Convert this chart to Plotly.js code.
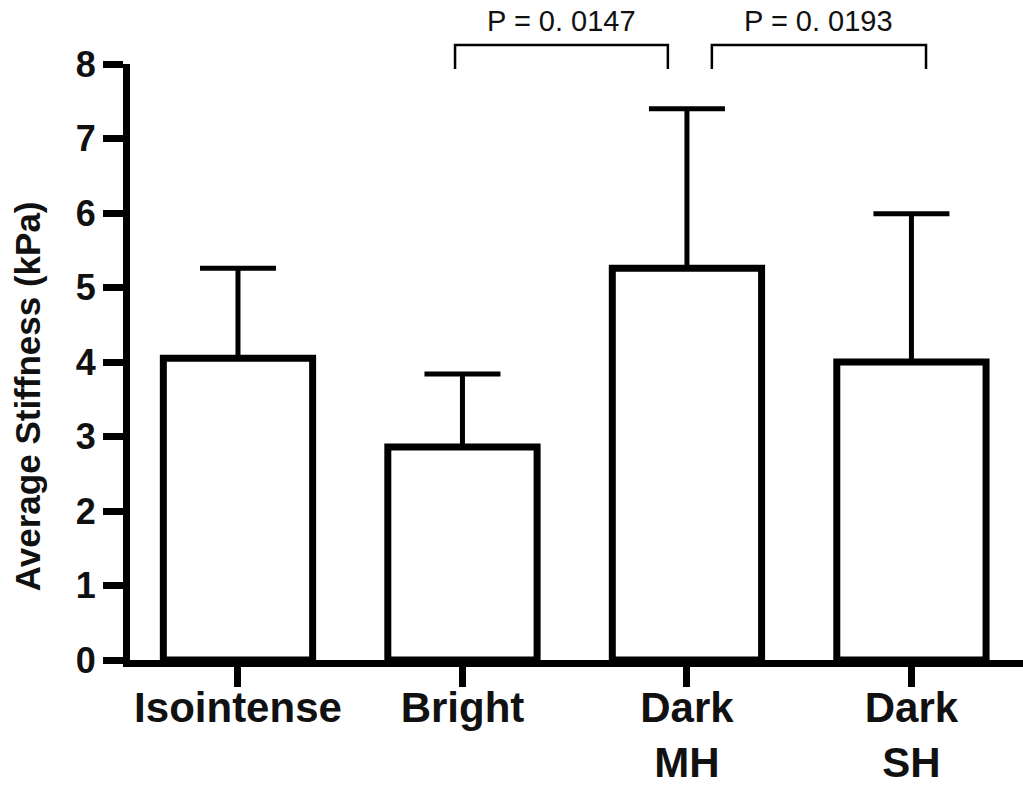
<!DOCTYPE html>
<html>
<head>
<meta charset="utf-8">
<script src="https://cdn.plot.ly/plotly-3.0.1.min.js"></script>
<style>html,body{margin:0;padding:0;background:#fff;}#chart{width:1023px;height:788px;}</style>
</head>
<body>
<div id="chart"></div>
<script>
var categories = ["Isointense", "Bright", "Dark<br>MH", "Dark<br>SH"];
var meanStiffness = [4.05, 2.86, 5.26, 4.00];
var errorUp = [1.21, 0.98, 2.14, 1.99];
var errorDown = [0, 0, 0, 0];
var yTickVals = [0, 1, 2, 3, 4, 5, 6, 7, 8];
var yTitle = "Average Stiffness (kPa)";
var comparisons = [
  {from: 1, to: 2, label: "P = 0. 0147"},
  {from: 2, to: 3, label: "P = 0. 0193"}
];

var FONT = "Liberation Sans, Arial, Helvetica, sans-serif";

var trace = {
  type: "bar",
  x: categories,
  y: meanStiffness,
  width: 0.665,
  marker: {color: "#ffffff", line: {color: "#000000", width: 7}},
  error_y: {type: "data", symmetric: false, array: errorUp, arrayminus: errorDown,
            color: "#000000", thickness: 5, width: 38},
  hoverinfo: "skip"
};

var shapes = [];
var annotations = [];
comparisons.forEach(function (c) {
  var a = c.from - 0.033, b = c.to - 0.085;
  if (c.from === 2) { a = c.from + 0.111; b = c.to + 0.065; }
  shapes.push({type: "path", xref: "x", yref: "paper",
    path: "M " + a + " 0.9916 L " + a + " 1.032 L " + b + " 1.032 L " + b + " 0.9916",
    line: {color: "#000000", width: 2.5}});
  annotations.push({xref: "x", yref: "paper", x: (a + b) / 2, y: 1.072,
    text: c.label, showarrow: false, xanchor: "center", yanchor: "middle",
    font: {family: FONT, size: 29, color: "#111111"}});
});
annotations.push({xref: "paper", yref: "paper", x: -0.114, y: 0.443,
  text: yTitle, textangle: -90, showarrow: false, xanchor: "center", yanchor: "middle",
  font: {family: FONT, size: 35, color: "#111111", weight: "bold"}});

var layout = {
  width: 1023, height: 788,
  margin: {l: 130, r: 0, t: 64, b: 128, pad: 0},
  paper_bgcolor: "#ffffff", plot_bgcolor: "#ffffff",
  showlegend: false,
  xaxis: {
    type: "category", range: [-0.481, 3.497],
    showline: true, linecolor: "#000000", linewidth: 7,
    ticks: "outside", ticklen: 20, tickwidth: 7, tickcolor: "#000000",
    ticklabelstandoff: -15,
    showgrid: false, zeroline: false,
    tickfont: {family: FONT, size: 42, color: "#111111", weight: "bold"}
  },
  yaxis: {
    range: [0, 8], tickvals: yTickVals,
    showline: true, linecolor: "#000000", linewidth: 7,
    ticks: "outside", ticklen: 20, tickwidth: 7, tickcolor: "#000000",
    showgrid: false, zeroline: false,
    tickfont: {family: FONT, size: 36, color: "#111111", weight: "bold"}
  },
  shapes: shapes,
  annotations: annotations
};

Plotly.newPlot("chart", [trace], layout, {displayModeBar: false, staticPlot: true});
</script>
</body>
</html>
